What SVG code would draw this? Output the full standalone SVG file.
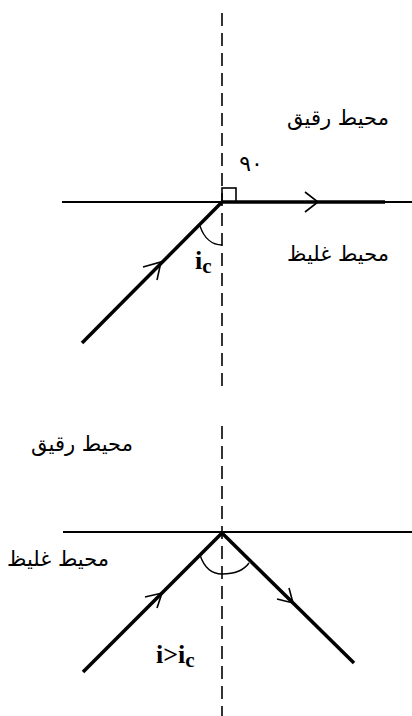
<svg xmlns="http://www.w3.org/2000/svg" width="412" height="716" viewBox="0 0 412 716">
<style>
.dash{stroke:#000;stroke-width:1.6;stroke-dasharray:13 7;fill:none}
.thin{stroke:#000;stroke-width:2;fill:none}
.ray{stroke:#000;stroke-width:3.5;fill:none;stroke-linecap:butt}
.head{stroke:#000;stroke-width:1.6;fill:none}
.arc{stroke:#000;stroke-width:1.4;fill:none}
.ar{font-family:"DejaVu Sans","Noto Sans",sans-serif;font-size:21px;fill:#000;text-anchor:middle}
.sym{font-family:"Liberation Serif","Times New Roman",serif;font-weight:bold;fill:#000;font-size:26px}
.sub{font-size:21px}
</style>
<rect width="412" height="716" fill="#fff"/>
<g id="top-diagram">
  <g id="connectors-top">
    <line class="dash" x1="222" y1="13" x2="222" y2="390"/>
    <line class="thin" x1="62" y1="202" x2="412" y2="202"/>
    <line class="ray" x1="222" y1="202" x2="385" y2="202"/>
    <polyline class="head" points="305,192 318,202 305,212"/>
    <line class="ray" x1="82" y1="343" x2="222" y2="202"/>
    <polyline class="head" points="143,267 161,262 157,280"/>
    <path class="arc" d="M200,226 C204,238 212,245 222,245"/>
    <rect x="222" y="188" width="14" height="14" fill="none" stroke="#000" stroke-width="1.6"/>
  </g>
  <g id="label-thin-top"><text class="ar" x="338" y="125">محيط رقيق</text></g>
  <g id="label-dense-top"><text class="ar" x="338" y="261">محيط غليظ</text></g>
  <g id="label-90"><text x="251" y="171" font-family="DejaVu Sans, sans-serif" font-size="22" text-anchor="middle" fill="#000">٩٠</text></g>
  <g id="label-ic"><text class="sym" x="195" y="269">i<tspan class="sub" dy="4">c</tspan></text></g>
</g>
<g id="bottom-diagram">
  <g id="connectors-bottom">
    <line class="dash" x1="222" y1="426" x2="222" y2="716"/>
    <line class="thin" x1="63" y1="532" x2="412" y2="532"/>
    <line class="ray" x1="83" y1="672" x2="222" y2="533"/>
    <line class="ray" x1="222" y1="533" x2="354" y2="663"/>
    <polyline class="head" points="145,597 162,593 157,608"/>
    <polyline class="head" points="277,599 293,603 289,588"/>
    <path class="arc" d="M200,555 C205,570 214,574 222,574 C234,574 244,570 249,563"/>
  </g>
  <g id="label-thin-bottom"><text class="ar" x="82" y="451">محيط رقيق</text></g>
  <g id="label-dense-bottom"><text class="ar" x="58" y="566">محيط غليظ</text></g>
  <g id="label-i-gt-ic"><text class="sym" x="156" y="663">i&gt;i<tspan class="sub" dy="4">c</tspan></text></g>
</g>
</svg>
